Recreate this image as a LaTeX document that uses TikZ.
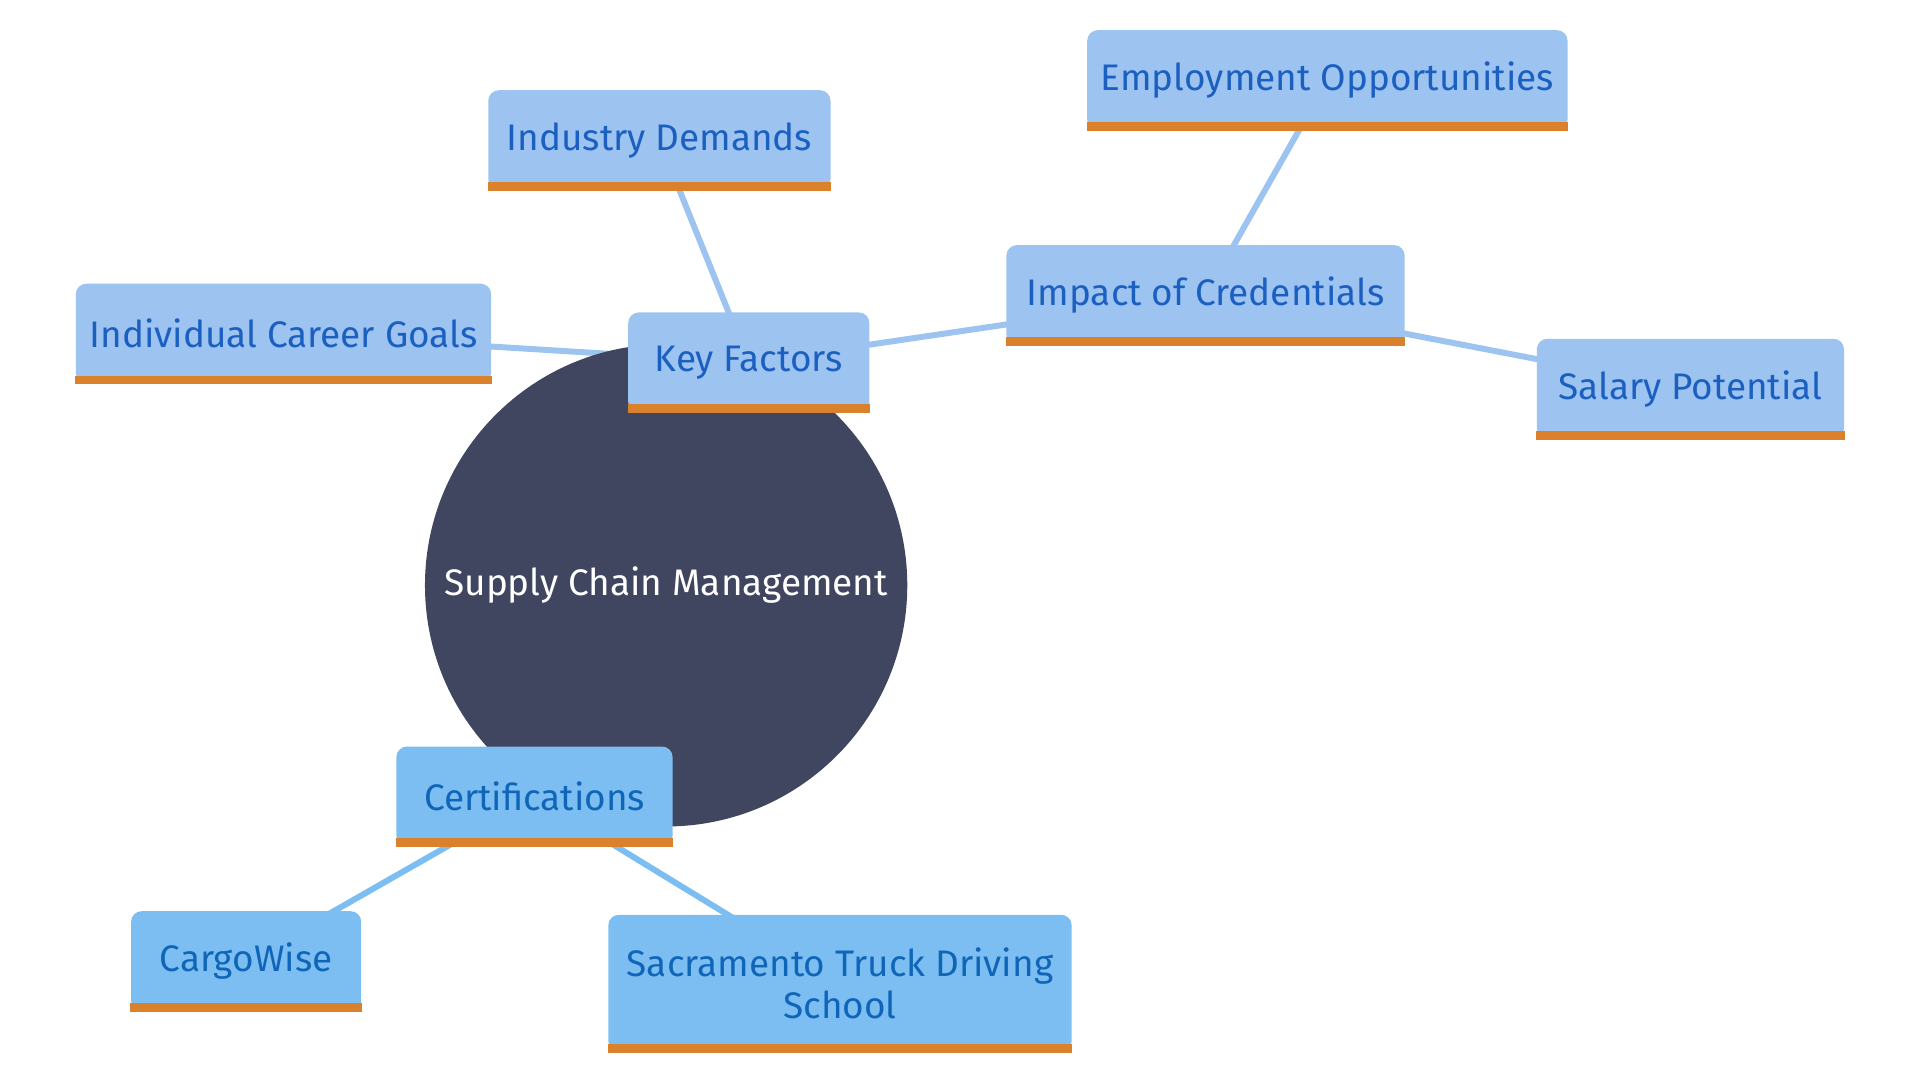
\documentclass[tikz,border=0pt]{standalone}
\usepackage{fontspec}
\setmainfont{Fira Sans}
\definecolor{hubfill}{HTML}{404560}
\definecolor{boxfill}{HTML}{9DC3F0}
\definecolor{certfill}{HTML}{7DBEF2}
\definecolor{boxtext}{HTML}{1B5FC0}
\definecolor{certtext}{HTML}{0F66B8}
\definecolor{edgeorange}{HTML}{D9822B}
\begin{document}
\begin{tikzpicture}[x=0.012245cm, y=-0.012245cm,
    box/.style={fill=boxfill, text=boxtext, rounded corners=3pt, minimum height=1cm,
      inner sep=2pt, font=\fontsize{10.5}{12}\selectfont, align=center},
    cert/.style={box, fill=certfill, text=certtext},
    link/.style={line width=1.7pt, boxfill},
    clink/.style={line width=1.7pt, certfill}]
    \useasboundingbox (0,0) rectangle (1568,882);
    % links first, boxes go on top
    \coordinate (kfc) at (611.5,296);
    \coordinate (crc) at (436.5,650.5);
    \coordinate (imc) at (984.5,241);
    \draw[link] (kfc) -- (538.5,114.5) coordinate (ind);
    \draw[link] (kfc) -- (231.5,272.5) coordinate (car);
    \draw[link] (kfc) -- (imc);
    \draw[link] (imc) -- (1084,65.5) coordinate (emp);
    \draw[link] (imc) -- (1380.5,317.5) coordinate (sal);
    \draw[clink] (crc) -- (201,785) coordinate (cgw);
    \draw[clink] (crc) -- (686,803) coordinate (sac);
    \node[circle, fill=hubfill, text=white, minimum size=4.82cm, font=\fontsize{10.5}{12}\selectfont] (hub) at (544,478) {Supply Chain Management};
    \node[box, minimum width=2.41cm] (kf) at (kfc) {Key Factors};
    \node[box, minimum width=3.42cm] (industry) at (ind) {Industry Demands};
    \node[box, minimum width=4.15cm] (goals) at (car) {Individual Career Goals};
    \node[box, minimum width=3.98cm] (impact) at (imc) {Impact of Credentials};
    \node[box, minimum width=4.80cm] (employ) at (emp) {Employment Opportunities};
    \node[box, minimum width=3.07cm] (salary) at (sal) {Salary Potential};
    \node[cert, minimum width=2.76cm] (certs) at (crc) {Certifications};
    \node[cert, minimum width=2.30cm] (cargo) at (cgw) {CargoWise};
    \node[cert, minimum width=4.63cm, minimum height=1.37cm] (truck) at (sac) {Sacramento Truck Driving\\School};
    % orange bottom edges
    \foreach \n in {kf,industry,goals,impact,employ,salary,certs,cargo,truck}
        \draw[edgeorange, line width=2.5pt] ([yshift=1.25pt]\n.south west) -- ([yshift=1.25pt]\n.south east);
\end{tikzpicture}
\end{document}
